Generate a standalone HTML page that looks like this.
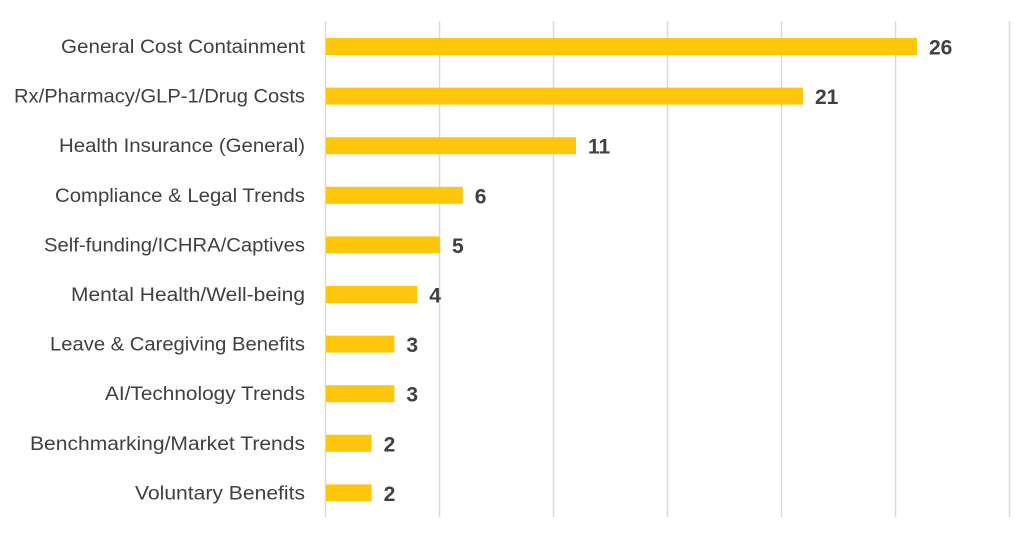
<!DOCTYPE html>
<html><head><style>html,body{margin:0;padding:0;background:#fff;}svg{display:block;}</style></head>
<body>
<svg width="1030" height="539" xmlns="http://www.w3.org/2000/svg" font-family="Liberation Sans, sans-serif">
<g stroke="#d9d9d9" stroke-width="1.5">
<line x1="325.5" y1="21" x2="325.5" y2="517"/>
<line x1="439.5" y1="21" x2="439.5" y2="517"/>
<line x1="553.5" y1="21" x2="553.5" y2="517"/>
<line x1="667.5" y1="21" x2="667.5" y2="517"/>
<line x1="781.5" y1="21" x2="781.5" y2="517"/>
<line x1="895.5" y1="21" x2="895.5" y2="517"/>
<line x1="1009.5" y1="21" x2="1009.5" y2="517"/>
</g>
<g fill="#FFC60B">
<rect x="326" y="38" width="591" height="17"/>
<rect x="326" y="87.6" width="477" height="17"/>
<rect x="326" y="137.2" width="250" height="17"/>
<rect x="326" y="186.8" width="136.8" height="17"/>
<rect x="326" y="236.4" width="114" height="17"/>
<rect x="326" y="286" width="91.2" height="17"/>
<rect x="326" y="335.6" width="68.4" height="17"/>
<rect x="326" y="385.2" width="68.4" height="17"/>
<rect x="326" y="434.8" width="45.6" height="17"/>
<rect x="326" y="484.4" width="45.6" height="17"/>
</g>
<g fill="#404040" font-size="19" text-anchor="end">
<text x="305" y="53" textLength="244" lengthAdjust="spacingAndGlyphs">General Cost Containment</text>
<text x="305" y="102.6" textLength="291" lengthAdjust="spacingAndGlyphs">Rx/Pharmacy/GLP-1/Drug Costs</text>
<text x="305" y="152.2" textLength="246" lengthAdjust="spacingAndGlyphs">Health Insurance (General)</text>
<text x="305" y="201.8" textLength="250" lengthAdjust="spacingAndGlyphs">Compliance &amp; Legal Trends</text>
<text x="305" y="251.4" textLength="261" lengthAdjust="spacingAndGlyphs">Self-funding/ICHRA/Captives</text>
<text x="305" y="301" textLength="234" lengthAdjust="spacingAndGlyphs">Mental Health/Well-being</text>
<text x="305" y="350.6" textLength="255" lengthAdjust="spacingAndGlyphs">Leave &amp; Caregiving Benefits</text>
<text x="305" y="400.2" textLength="200" lengthAdjust="spacingAndGlyphs">AI/Technology Trends</text>
<text x="305" y="449.8" textLength="275" lengthAdjust="spacingAndGlyphs">Benchmarking/Market Trends</text>
<text x="305" y="499.4" textLength="170" lengthAdjust="spacingAndGlyphs">Voluntary Benefits</text>
</g>
<g fill="#404040" font-size="21" font-weight="bold">
<text x="929" y="54.5">26</text>
<text x="815" y="104">21</text>
<text x="588" y="153.7">11</text>
<text x="474.8" y="203.3">6</text>
<text x="452" y="252.9">5</text>
<text x="429.2" y="302.5">4</text>
<text x="406.4" y="352.1">3</text>
<text x="406.4" y="401.7">3</text>
<text x="383.6" y="451.3">2</text>
<text x="383.6" y="500.9">2</text>
</g>
</svg>
</body></html>
